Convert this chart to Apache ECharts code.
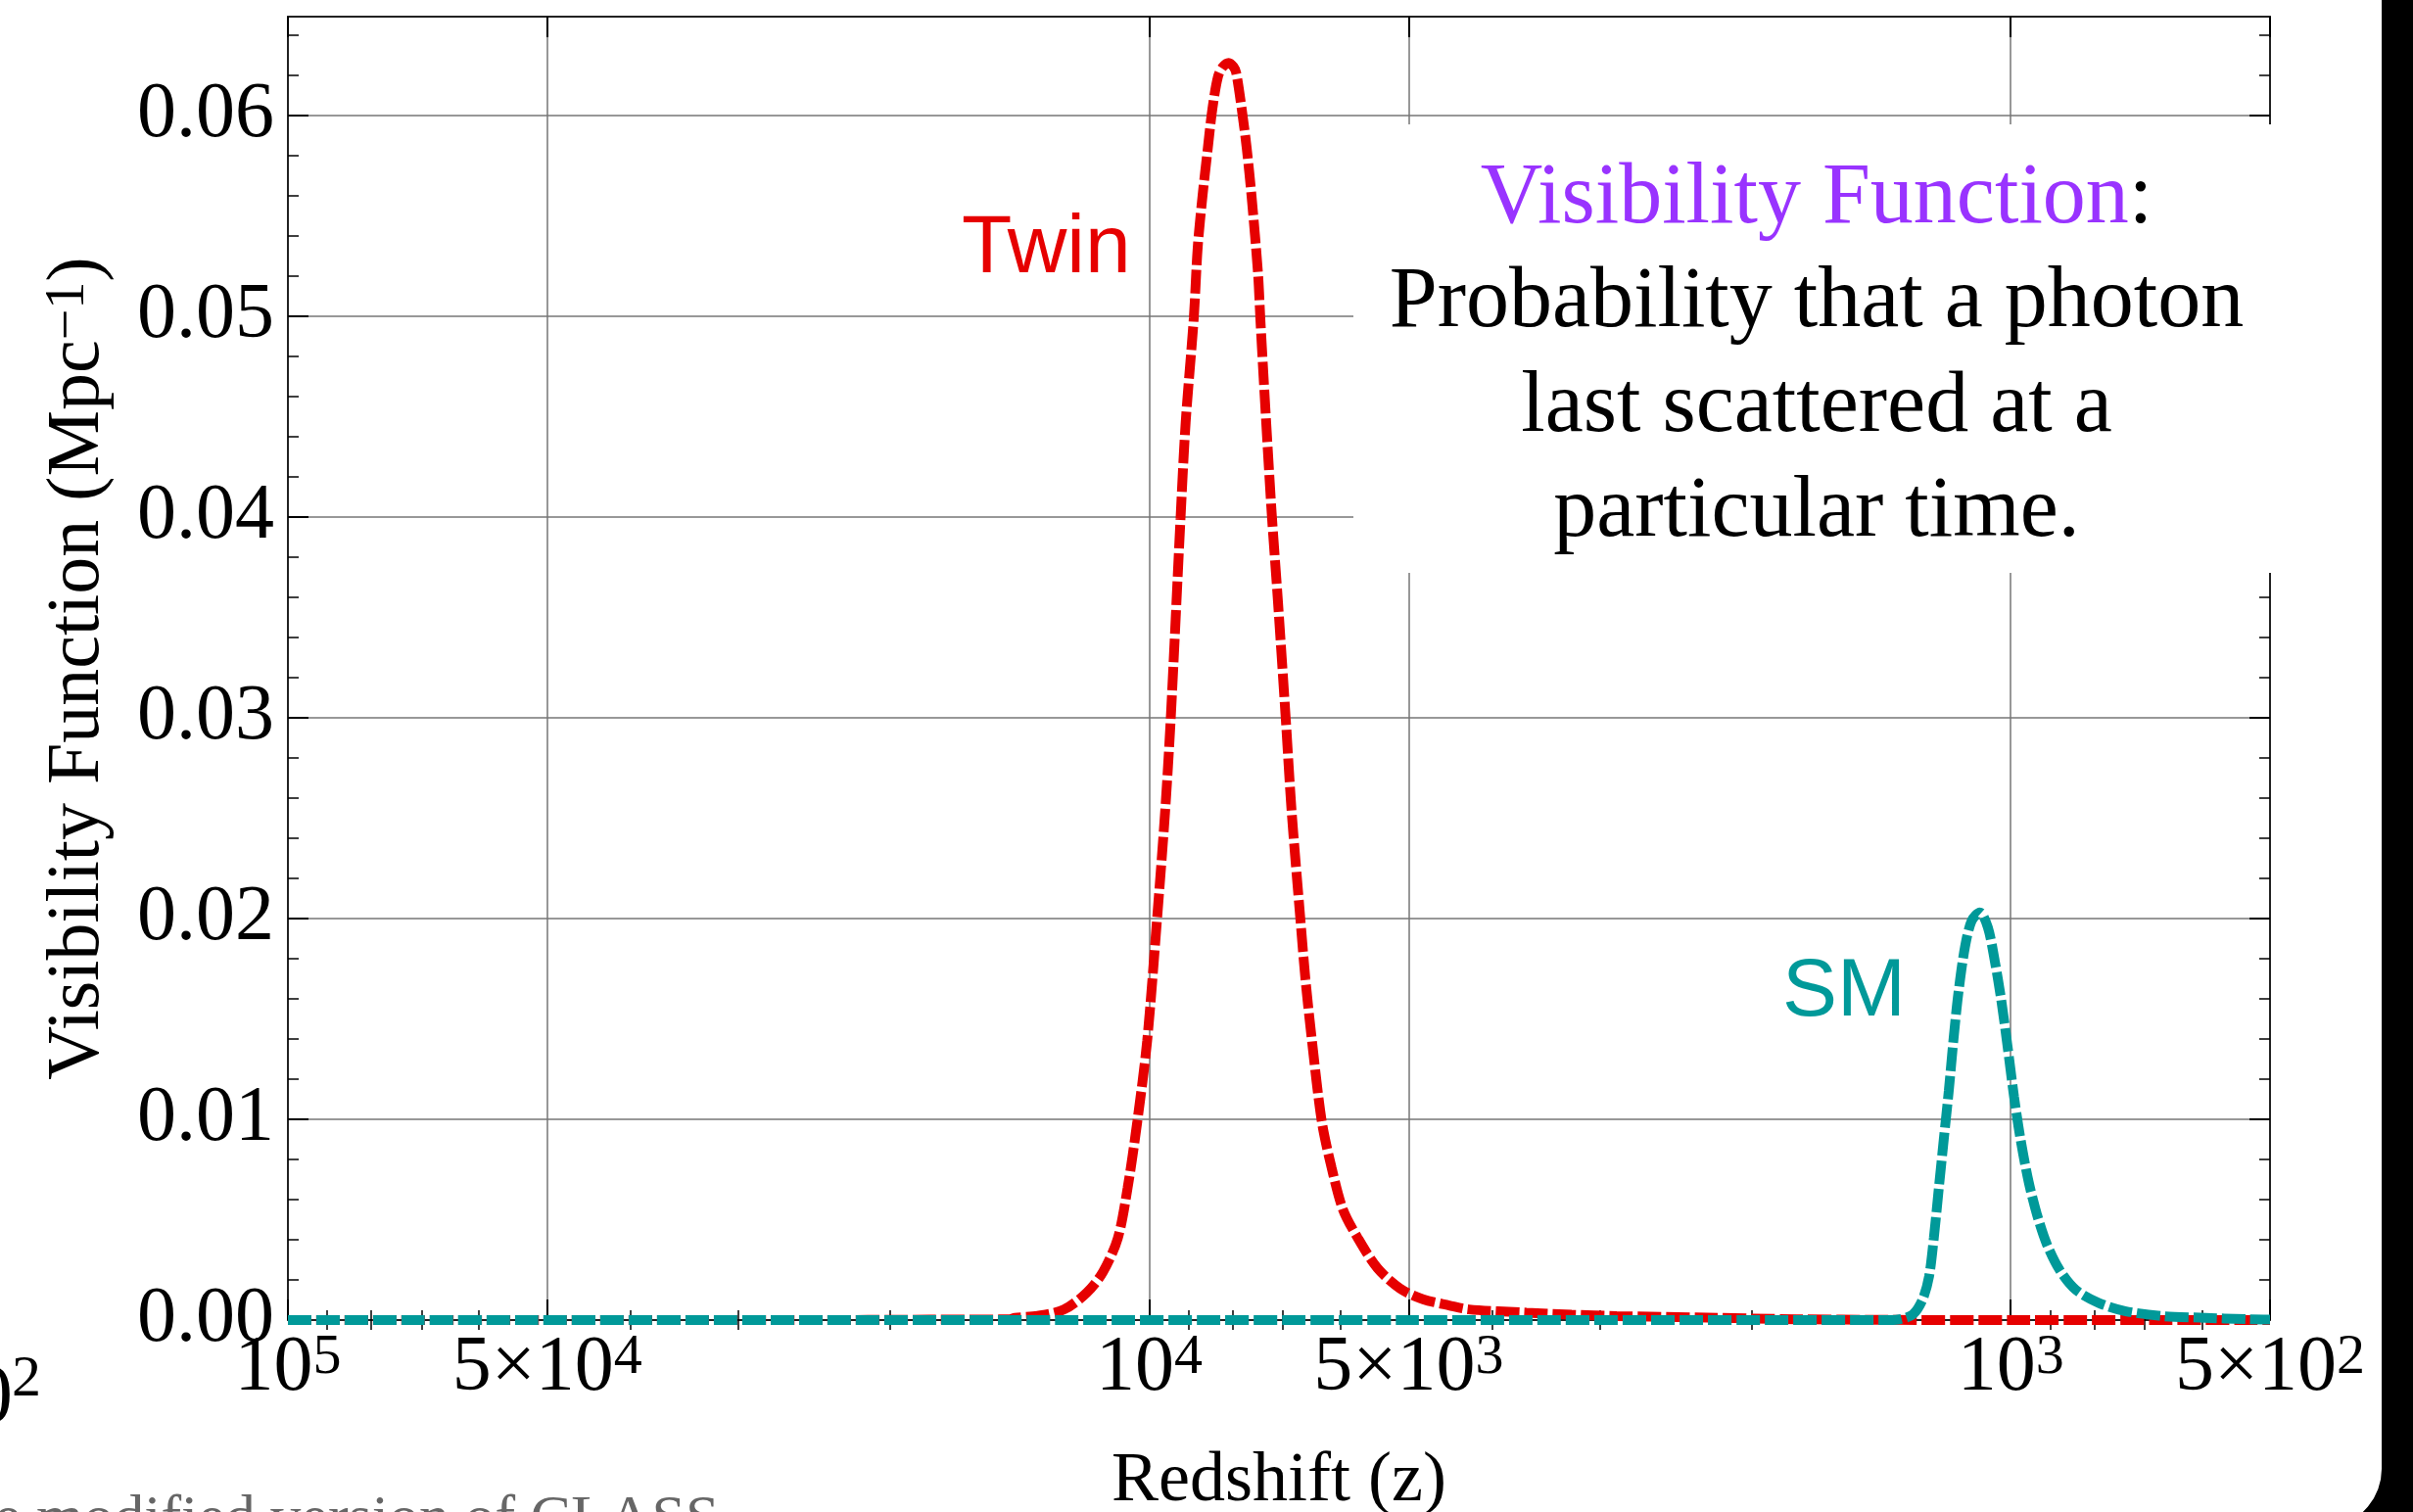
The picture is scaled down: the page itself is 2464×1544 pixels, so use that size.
<!DOCTYPE html>
<html><head><meta charset="utf-8">
<script src="https://cdn.jsdelivr.net/npm/echarts@6/dist/echarts.min.js"></script>
<style>html,body{margin:0;padding:0;background:#fff;}#c{width:2464px;height:1544px;}</style>
</head><body><div id="c"></div>
<script>
// ---------- data ----------
const twinZ = [100000, 50000, 25000, 18000, 14555, 14322, 13476, 12568, 11822, 11316, 10880, 10598, 10325, 10058, 9798, 9587, 9445, 9200, 9074, 8879, 8787, 8673, 8560, 8449, 8324, 8216, 8088, 7983, 7927, 7811, 7710, 7610, 7478, 7433, 7367, 7266, 7203, 7096, 6943, 6835, 6676, 6589, 6474, 6307, 6144, 5959, 5730, 5437, 5114, 4812, 4486, 4257, 3648, 3234, 2867, 2253, 1771, 1396, 1000, 500];
const twinV = [0, 0, 0, 0.00002, 0.00004, 0.00011, 0.00021, 0.00052, 0.00136, 0.0024, 0.00407, 0.00657, 0.0099, 0.0139, 0.0199, 0.0253, 0.0299, 0.0399, 0.0447, 0.0499, 0.0534, 0.056, 0.0582, 0.0603, 0.0619, 0.0624, 0.0626, 0.0624, 0.0621, 0.0603, 0.0584, 0.056, 0.0521, 0.0499, 0.0469, 0.0425, 0.0399, 0.036, 0.0299, 0.0253, 0.0199, 0.017, 0.0139, 0.0099, 0.0076, 0.0055, 0.0041, 0.0026, 0.00157, 0.00104, 0.00073, 0.00053, 0.00037, 0.00027, 0.0002, 0.00012, 0.00004, 0.00001, 0, 0];
const smZ = [100000, 5000, 1381, 1345, 1299, 1266, 1244, 1228, 1212, 1196, 1180, 1165, 1150, 1130, 1110, 1086, 1063, 1044, 1026, 1009, 991, 974, 953, 932, 908, 877, 840, 790, 737, 669, 603, 529, 500];
const smV = [0, 0, 0, 0.00004, 0.00028, 0.00101, 0.00216, 0.00411, 0.00655, 0.00899, 0.01142, 0.01402, 0.0163, 0.01858, 0.01988, 0.0203, 0.01955, 0.01793, 0.01598, 0.0137, 0.0111, 0.00899, 0.00687, 0.00524, 0.00378, 0.00248, 0.0015, 0.00085, 0.00045, 0.0002, 0.00012, 0.00004, 0.00003];

const xMajorTicks = [100000, 50000, 10000, 5000, 1000, 500];
const xMajorLabels = ['{b|10}{s|5}', '{b|5×10}{s|4}', '{b|10}{s|4}', '{b|5×10}{s|3}', '{b|10}{s|3}', '{b|5×10}{s|2}'];
const xMinorTicks = [90000, 80000, 70000, 60000, 40000, 30000, 20000, 9000, 8000, 7000, 6000, 4000, 3000, 2000, 900, 800, 700, 600];
const yMajorTicks = [0, 0.01, 0.02, 0.03, 0.04, 0.05, 0.06];
const yMinorTicks = [0.002, 0.004, 0.006, 0.008, 0.012, 0.014, 0.016, 0.018, 0.022, 0.024, 0.026, 0.028, 0.032, 0.034, 0.036, 0.038, 0.042, 0.044, 0.046, 0.048, 0.052, 0.054, 0.056, 0.058, 0.062, 0.064];
const zMin = 500, zMax = 100000, vMax = 0.0649;

// ---------- build ----------
const SERIF = 'Liberation Serif', SANS = 'Liberation Sans';
const lg = Math.log10;
const xMin = lg(zMin), xMax = lg(zMax);
const xMajorLog = xMajorTicks.map(lg);
const xMinorLog = xMinorTicks.map(lg);
const FRAME = '#222', GRID = '#767676';

function xLabel(v) {
  const i = xMajorLog.findIndex(t => Math.abs(t - v) < 1e-6);
  return i >= 0 ? xMajorLabels[i] : '';
}
function xAx(pos, ticks, len, w, main) {
  return {
    type: 'value', position: pos, min: xMin, max: xMax, inverse: true,
    axisLine: main ? {show: true, onZero: false, lineStyle: {color: FRAME, width: 2}} : {show: false},
    axisTick: {show: true, inside: true, length: len, customValues: ticks, lineStyle: {color: '#000', width: w}},
    axisLabel: {show: false}, splitLine: {show: false}
  };
}
function yAx(pos, ticks, len, w, main) {
  return {
    type: 'value', position: pos, min: 0, max: vMax,
    axisLine: main ? {show: true, onZero: false, lineStyle: {color: FRAME, width: 2}} : {show: false},
    axisTick: {show: true, inside: true, length: len, customValues: ticks, lineStyle: {color: '#000', width: w}},
    axisLabel: {show: false}, splitLine: {show: false}
  };
}

const xMain = xAx('bottom', xMajorLog, 21, 2, true);
xMain.axisLabel = {
  show: true, customValues: xMajorLog, margin: 9.5, formatter: xLabel,
  rich: {
    b: {fontFamily: SERIF, fontSize: 80, color: '#000', verticalAlign: 'bottom', lineHeight: 80, padding: [12, 0, 0, 0]},
    s: {fontFamily: SERIF, fontSize: 58, color: '#000', verticalAlign: 'top', lineHeight: 58}
  }
};
xMain.splitLine = {show: true, lineStyle: {color: GRID, width: 1.5}};
xMain.name = 'Redshift (z)';
xMain.nameLocation = 'middle';
xMain.nameGap = 132;
xMain.nameTextStyle = {fontFamily: SERIF, fontSize: 72, color: '#000', lineHeight: 66};

const yMain = yAx('left', yMajorTicks, 21, 2, true);
yMain.axisLabel = {show: true, customValues: yMajorTicks, margin: 14, formatter: v => v.toFixed(2),
  fontFamily: SERIF, fontSize: 80, color: '#000'};
yMain.splitLine = {show: true, lineStyle: {color: GRID, width: 1.5}};
yMain.name = '{n|Visibility Function (Mpc}{s|−1}{n|)}';
yMain.nameLocation = 'middle';
yMain.nameGap = 176;
yMain.nameTextStyle = {rich: {
  n: {fontFamily: SERIF, fontSize: 76, color: '#000', verticalAlign: 'bottom', lineHeight: 76, padding: [10, 0, 0, 0]},
  s: {fontFamily: SERIF, fontSize: 56, color: '#000', verticalAlign: 'top', lineHeight: 56}
}};

function lineSeries(name, zs, vs, color, z) {
  return {
    type: 'line', name: name, xAxisIndex: 0, yAxisIndex: 0, z: z,
    data: zs.map((zz, i) => [lg(zz), vs[i]]),
    showSymbol: false, symbol: 'none', smooth: 0.3, clip: false, silent: true,
    lineStyle: {color: color, width: 10, type: [24, 5], cap: 'butt'}
  };
}

const RED = '#e60000', TEAL = '#009999', PURPLE = '#9933ff';
function txt(x, y, text, font, size, color, align, z, rich) {
  const st = {text: text, fontFamily: font, fontSize: size, fill: color,
    align: align, textAlign: align, verticalAlign: 'middle', textVerticalAlign: 'middle'};
  if (rich) st.rich = rich;
  return {type: 'text', x: x, y: y, z: z || 11, silent: true, style: st};
}

const option = {
  animation: false,
  backgroundColor: '#fff',
  grid: {left: 294, right: 146, top: 17, bottom: 196, containLabel: false, outerBoundsMode: 'none'},
  xAxis: [xMain, xAx('bottom', xMinorLog, 10, 1.5, false), xAx('top', xMajorLog, 21, 2, true), xAx('top', xMinorLog, 10, 1.5, false)],
  yAxis: [yMain, yAx('left', yMinorTicks, 11, 1.5, false), yAx('right', yMajorTicks, 21, 2, true), yAx('right', yMinorTicks, 11, 1.5, false)],
  series: [
    lineSeries('Twin', twinZ, twinV, RED, 3),
    lineSeries('SM', smZ, smV, TEAL, 4)
  ],
  graphic: [
    {type: 'rect', z: 10, silent: true, shape: {x: 1382, y: 127, width: 948, height: 458}, style: {fill: '#fff'}},
    txt(1855, 204.2, '{p|Visibility Function}{k|:}', SERIF, 88, '#000', 'center', 11,
      {p: {fill: PURPLE, fontFamily: SERIF, fontSize: 88}, k: {fill: '#000', fontFamily: SERIF, fontSize: 88}}),
    txt(1855, 310.2, 'Probability that a photon', SERIF, 88, '#000', 'center'),
    txt(1855, 416.9, 'last scattered at a', SERIF, 88, '#000', 'center'),
    txt(1855, 523.6, 'particular time.', SERIF, 88, '#000', 'center'),
    txt(982, 254.8, 'Twin', SANS, 84, RED, 'left'),
    txt(1820, 1013.8, 'SM', SANS, 84, TEAL, 'left'),
    txt(13, 1430, '10', SERIF, 84, '#000', 'right'),
    txt(12, 1409, '2', SERIF, 60, '#000', 'left'),
    txt(-6, 1552.7, 'e modified version of CLASS', SERIF, 62, '#666', 'left'),
    {type: 'polygon', z: 20, silent: true,
     shape: {points: [[2432, 0], [2464, 0], [2464, 1544], [2412.8, 1544], [2417.96, 1538.57], [2423.96, 1530], [2428.38, 1520.52], [2431.09, 1510.42], [2432, 1500]]},
     style: {fill: '#000'}}
  ]
};
const chart = echarts.init(document.getElementById('c'), null, {renderer: 'canvas'});
chart.setOption(option);
</script></body></html>
